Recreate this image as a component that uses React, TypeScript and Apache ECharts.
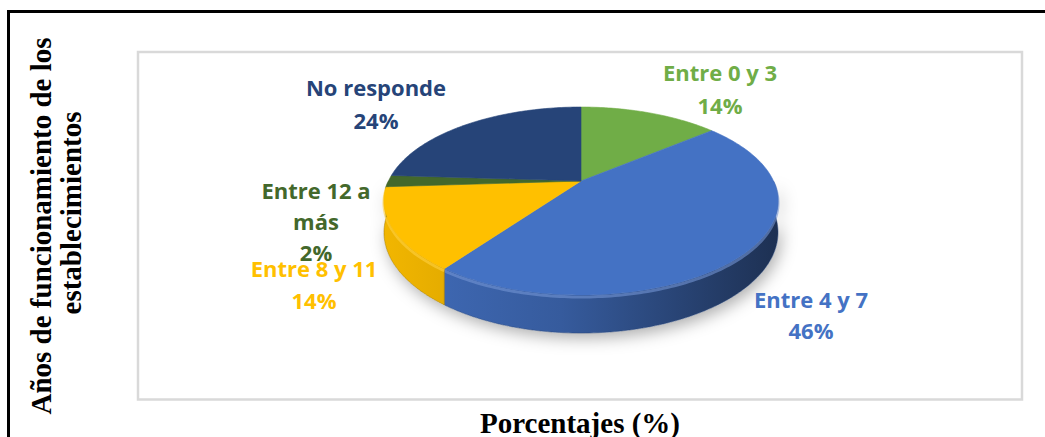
import React, { useEffect, useRef } from "react";
import * as echarts from "echarts";

// ---- data ----
const categories = ["Entre 0 y 3", "Entre 4 y 7", "Entre 8 y 11", "Entre 12 a más", "No responde"];
const values = [14, 46, 14, 2, 24];
const colors = ["#70AD47", "#4472C4", "#FFC000", "#43682B", "#264478"];
const xTitle = "Porcentajes (%)";
const yTitleLines = ["Años de funcionamiento de los", "establecimientos"];

// ---- layout (not data) ----
const labelAnchors = [
  [720, 80],
  [811, 307],
  [314, 276],
  [316, 198],
  [376, 95],
];
const labelGap = [33, 31, 32, 31, 33];
const labelWrap = (s: string) => (s === "Entre 12 a más" ? "Entre 12 a\nmás" : s);

// pie projection parameters (perspective 3D look)
const CX = 581;
const AY = 181;
const PB = 51.2;
const PC = -0.2128;
const PE = 192.5;
const PH = 30;

const total = values.reduce((a, b) => a + b, 0);
const starts: number[] = [];
{
  let acc = 0;
  for (const v of values) {
    starts.push((acc / total) * Math.PI * 2);
    acc += v;
  }
}

function proj(phi: number) {
  const u = Math.sin(phi);
  const v = -Math.cos(phi);
  const d = 1 + PC * v;
  return { x: CX + (PE * u) / d, y: (AY + PB * v) / d, h: PH / d };
}

function arcPts(a: number, b: number) {
  const n = Math.max(2, Math.ceil((b - a) / (Math.PI / 180)) + 1);
  const pts: number[][] = [];
  for (let k = 0; k < n; k++) {
    const p = proj(a + ((b - a) * k) / (n - 1));
    pts.push([p.x, p.y, p.h]);
  }
  return pts;
}

function shade(hex: string, f: number) {
  const n = parseInt(hex.slice(1), 16);
  const r = (n >> 16) & 255, g = (n >> 8) & 255, b = n & 255;
  const m = (c: number) => {
    const v = f >= 1 ? c + (255 - c) * (f - 1) : c * f;
    return Math.max(0, Math.min(255, Math.round(v)));
  };
  return `rgb(${m(r)},${m(g)},${m(b)})`;
}

export default function App() {
  const ref = useRef<HTMLDivElement>(null);
  useEffect(() => {
    document.body.style.margin = "0";
    if (!ref.current) return;
    const chart = echarts.init(ref.current, undefined, { renderer: "svg" });

    const sideSeries = {
      type: "custom",
      coordinateSystem: "none",
      silent: true,
      z: 2,
      data: values,
      renderItem: (params: any, api: any) => {
        const i = params.dataIndex;
        const val = api.value(0);
        const a = starts[i];
        const b = a + (val / total) * Math.PI * 2;
        const lo = Math.max(a, Math.PI / 2);
        const hi = Math.min(b, (Math.PI * 3) / 2);
        const children: any[] = [];
        if (i === 0) {
          const full = arcPts(Math.PI / 2, (Math.PI * 3) / 2);
          const pts = full.map((p) => [p[0], p[1]]).concat(full.slice().reverse().map((p) => [p[0], p[1] + p[2]]));
          children.push({
            type: "polygon",
            shape: { points: pts },
            style: {
              fill: "#ffffff",
              shadowBlur: 16,
              shadowColor: "rgba(0,0,0,0.32)",
              shadowOffsetX: 3,
              shadowOffsetY: 5,
            },
          });
        }
        if (hi > lo) {
          const arc = arcPts(lo, hi);
          const pts = arc.map((p) => [p[0], p[1]]).concat(arc.slice().reverse().map((p) => [p[0], p[1] + p[2]]));
          const col = colors[i];
          children.push({
            type: "polygon",
            shape: { points: pts },
            style: {
              fill: new echarts.graphic.LinearGradient(
                CX - PE * 1.03,
                0,
                CX + PE * 1.03,
                0,
                [
                  { offset: 0, color: shade(col, 0.95) },
                  { offset: 0.45, color: shade(col, 0.8) },
                  { offset: 1, color: shade(col, 0.42) },
                ],
                true
              ),
              stroke: shade(col, 0.6),
              lineWidth: 0.5,
            },
          });
          // bevel highlight at rim
          children.push({
            type: "polyline",
            shape: { points: arc.map((p) => [p[0], p[1] + 2]) },
            style: { stroke: shade(col, 1.25), lineWidth: 3, fill: null, opacity: 0.6 },
          });
        }
        return { type: "group", children };
      },
    };

    const topSeries = {
      type: "custom",
      coordinateSystem: "none",
      silent: true,
      z: 3,
      data: values,
      renderItem: (params: any, api: any) => {
        const i = params.dataIndex;
        const val = api.value(0);
        const a = starts[i];
        const b = a + (val / total) * Math.PI * 2;
        const arc = arcPts(a, b);
        const pts = [[CX, AY]].concat(arc.map((p) => [p[0], p[1]]));
        const col = colors[i];
        const children: any[] = [
          {
            type: "polygon",
            shape: { points: pts },
            style: { fill: col, stroke: col, lineWidth: 0.6 },
          },
        ];
        const lines = labelWrap(categories[i]).split("\n");
        lines.push(Math.round((val / total) * 100) + "%");
        const [lx, ly] = labelAnchors[i];
        lines.forEach((t, k) => {
          children.push({
            type: "text",
            z2: 10,
            style: {
              text: t,
              x: lx,
              y: ly + k * labelGap[i] - 8,
              fill: col,
              fontSize: 22,
              fontWeight: "bold",
              fontFamily: "'Open Sans', 'Noto Sans', sans-serif",
              align: "center",
              verticalAlign: "middle",
              textAlign: "center",
              textVerticalAlign: "middle",
            },
          });
        });
        return { type: "group", children };
      },
    };

    const serif = "'Liberation Serif', 'DejaVu Serif', serif";
    const titleStyle = (text: string) => ({
      text,
      fill: "#000",
      fontSize: 29,
      fontWeight: "bold",
      fontFamily: serif,
      align: "center",
      verticalAlign: "middle",
      textAlign: "center",
      textVerticalAlign: "middle",
    });
    chart.setOption({
      animation: false,
      backgroundColor: "#ffffff",
      graphic: [
        { type: "line", shape: { x1: 8.5, y1: 10, x2: 8.5, y2: 437 }, style: { stroke: "#000", lineWidth: 3 } },
        { type: "line", shape: { x1: 7, y1: 11.5, x2: 1045, y2: 11.5 }, style: { stroke: "#000", lineWidth: 3 } },
        {
          type: "rect",
          shape: { x: 138, y: 52, width: 884, height: 347.5 },
          style: { fill: "none", stroke: "#d9d9d9", lineWidth: 2.5 },
        },
        { type: "text", x: 41, y: 226, rotation: Math.PI / 2, style: titleStyle(yTitleLines[0]) },
        { type: "text", x: 71, y: 213, rotation: Math.PI / 2, style: titleStyle(yTitleLines[1]) },
        { type: "text", x: 580, y: 423, style: titleStyle(xTitle) },
      ],
      series: [sideSeries, topSeries],
    });
    return () => chart.dispose();
  }, []);
  return <div ref={ref} style={{ width: 1045, height: 437 }} />;
}
